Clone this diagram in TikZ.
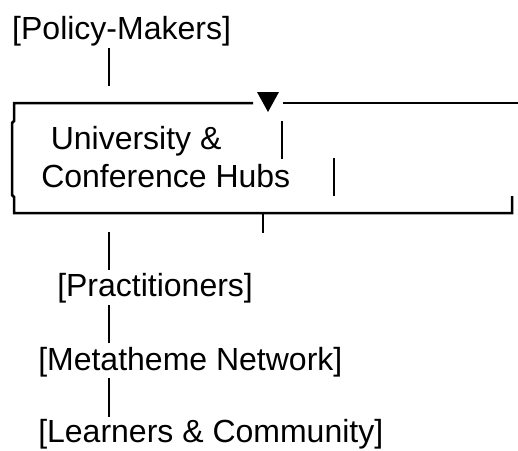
\documentclass[tikz,border=0pt]{standalone}
\usepackage{fontspec}
\setmainfont{Liberation Sans}

\begin{document}
\begin{tikzpicture}[x=1pt,y=-1pt,line width=2.5pt]
  \tikzstyle{lbl}=[anchor=base west,inner sep=0pt,font=\fontsize{32}{38}\selectfont]
  \useasboundingbox (0,0) rectangle (518,450);
  % labels, one per text row
  \node[lbl] (policy) at (11,39) {[Policy-Makers]};
  \node[lbl] (hubA) at (49.5,149) {University \&};
  \node[lbl] (hubB) at (40,187) {Conference Hubs};
  \node[lbl] (pract) at (56,296) {[Practitioners]};
  \node[lbl] (meta) at (37,370) {[Metatheme Network]};
  \node[lbl] (learn) at (37,442) {[Learners \& Community]};
  % line ends
  \coordinate (pmS) at (109,48);   \coordinate (pmE) at (109,86);
  \coordinate (tl) at (14,103);    \coordinate (tm) at (253,103);
  \coordinate (tr0) at (283,103);  \coordinate (tr) at (518,103);
  \coordinate (bl) at (14,213);    \coordinate (br) at (512,213);
  \coordinate (tip) at (268,112);
  \coordinate (barA) at (282,121); \coordinate (barB) at (334,158);
  \coordinate (stub) at (263,213);
  \coordinate (prS) at (109,232);  \coordinate (prE) at (109,270);
  \coordinate (mtS) at (109,305);  \coordinate (mtE) at (109,343);
  \coordinate (lnS) at (109,378);  \coordinate (lnE) at (109,417);
  % frame round the hubs
  \draw (pmS) -- (pmE);
  \draw (tm) -- (tl) -- ++(0,18) -- ++(-2,2) -- ++(0,72) -- ++(2,2) -- (bl) -- (br) -- ++(0,-17);
  \draw (tr0) -- (tr);
  \fill (tip) -- ++(-11,-20) -- ++(22,0) -- cycle;
  \draw (barA) -- ++(0,38);
  \draw (barB) -- ++(0,38);
  \draw (stub) -- ++(0,20);
  % chain below
  \draw (prS) -- (prE);
  \draw (mtS) -- (mtE);
  \draw (lnS) -- (lnE);
\end{tikzpicture}
\end{document}
